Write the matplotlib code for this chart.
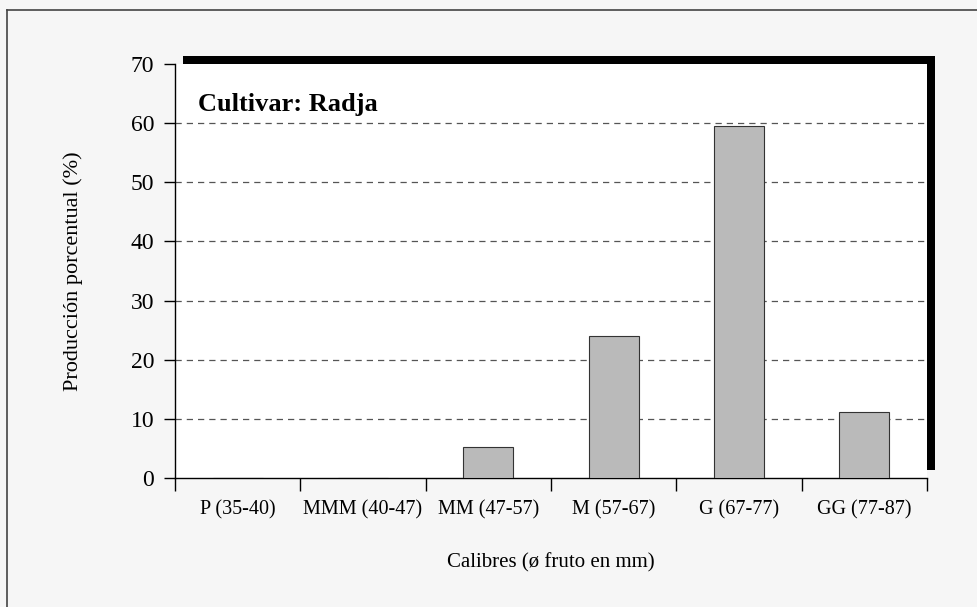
import matplotlib.pyplot as plt
import matplotlib.patches as patches
from matplotlib.lines import Line2D
import numpy as np

categories = ['P (35-40)', 'MMM (40-47)', 'MM (47-57)', 'M (57-67)', 'G (67-77)', 'GG (77-87)']
produccion = [0, 0, 5.3, 24.0, 59.5, 11.2]
yticks = [0, 10, 20, 30, 40, 50, 60, 70]

plt.rcParams['font.family'] = ['Liberation Serif', 'DejaVu Serif']

W, H = 977, 607
fig = plt.figure(figsize=(W / 100, H / 100), dpi=100)
fig.patch.set_facecolor('#f6f6f6')

# plot area in pixels
x0, x1, y0, y1 = 175, 927, 64, 478
ax = fig.add_axes([x0 / W, 1 - y1 / H, (x1 - x0) / W, (y1 - y0) / H])

# drop shadow up and to the right
off = 8
fig.patches.append(patches.Rectangle(((x0 + off) / W, 1 - (y1 - off) / H),
                                     (x1 - x0) / W, (y1 - y0) / H,
                                     transform=fig.transFigure, facecolor='black',
                                     edgecolor='none', zorder=-1))
# thin frame at top and left
fig.lines.append(Line2D([7 / W, 7 / W], [0, 1 - 10 / H], transform=fig.transFigure,
                        color='#444444', lw=1.2))
fig.lines.append(Line2D([7 / W, 1], [1 - 10 / H, 1 - 10 / H], transform=fig.transFigure,
                        color='#444444', lw=1.2))

x = np.arange(len(categories))
ax.bar(x, produccion, width=0.4, color='#bababa', edgecolor='#333333', linewidth=0.8, zorder=3)

ax.set_xlim(-0.5, len(categories) - 0.5)
ax.set_ylim(0, 70)
ax.set_yticks(yticks)
ax.tick_params(axis='y', labelsize=17, length=8, width=1, direction='out', pad=7)
ax.set_xticks(np.arange(len(categories) + 1) - 0.5)
ax.set_xticklabels([])
ax.set_xticks(x, minor=True)
ax.set_xticklabels(categories, minor=True)
ax.tick_params(axis='x', which='major', length=9, width=1, direction='out')
ax.tick_params(axis='x', which='minor', length=0, labelsize=14.5, pad=16)

for v in yticks[1:-1]:
    ax.axhline(v, color='#555555', lw=0.9, ls=(0, (5, 4)), zorder=1)

for s in ['top', 'right']:
    ax.spines[s].set_visible(False)
ax.spines['left'].set_linewidth(1)
ax.spines['bottom'].set_linewidth(1)

ax.text(0.03, 0.93, 'Cultivar: Radja', transform=ax.transAxes, fontsize=19,
        fontweight='bold', va='top', ha='left')

ax.set_ylabel('Producción porcentual (%)', fontsize=16, labelpad=34)
ax.set_xlabel('Calibres (ø fruto en mm)', fontsize=15, labelpad=24)

fig.savefig('out.png', dpi=100, facecolor=fig.get_facecolor())
